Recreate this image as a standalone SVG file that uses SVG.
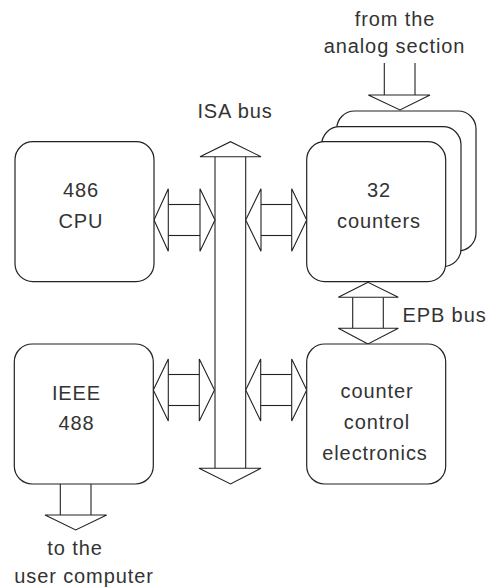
<svg xmlns="http://www.w3.org/2000/svg" width="496" height="588" viewBox="0 0 496 588">
<style>
.box{fill:#fff;stroke:#222;stroke-width:1.2}
.ln{fill:#fff;stroke:#222;stroke-width:1.1;stroke-linejoin:miter}
.ln2{fill:none;stroke:#222;stroke-width:1.1}
text{font-family:"Liberation Sans",Arial,sans-serif;font-size:20px;fill:#333;letter-spacing:0.9px;text-anchor:middle}
</style>
<rect width="496" height="588" fill="#fff"/>
<g id="connectors">
  <g id="isa-bus">
    <line class="ln2" x1="215" y1="156.7" x2="215" y2="468.3"/>
    <line class="ln2" x1="245.7" y1="156.7" x2="245.7" y2="468.3"/>
    <polygon class="ln" points="200,156.7 230.5,141.7 261,156.7"/>
    <polygon class="ln" points="199,468.3 230.5,484 261,468.3"/>
  </g>
  <g id="cpu-isa">
    <line class="ln2" x1="168.3" y1="204.5" x2="200" y2="204.5"/>
    <line class="ln2" x1="168.3" y1="235.5" x2="200" y2="235.5"/>
    <polygon class="ln" points="154,220 168.3,188.8 168.3,251.2"/>
    <polygon class="ln" points="215,220 200,188.8 200,251.2"/>
  </g>
  <g id="isa-counters">
    <line class="ln2" x1="261" y1="204.5" x2="291.7" y2="204.5"/>
    <line class="ln2" x1="261" y1="235.5" x2="291.7" y2="235.5"/>
    <polygon class="ln" points="245.7,220 261,188.8 261,251.2"/>
    <polygon class="ln" points="306.7,220 291.7,188.8 291.7,251.2"/>
  </g>
  <g id="ieee-isa">
    <line class="ln2" x1="168.3" y1="374.5" x2="199.3" y2="374.5"/>
    <line class="ln2" x1="168.3" y1="405.5" x2="199.3" y2="405.5"/>
    <polygon class="ln" points="153.3,390 168.3,359 168.3,421"/>
    <polygon class="ln" points="214.5,390 199.3,359 199.3,421"/>
  </g>
  <g id="isa-control">
    <line class="ln2" x1="260.7" y1="374.5" x2="291.7" y2="374.5"/>
    <line class="ln2" x1="260.7" y1="405.5" x2="291.7" y2="405.5"/>
    <polygon class="ln" points="245.7,390 260.7,359 260.7,421"/>
    <polygon class="ln" points="306.7,390 291.7,359 291.7,421"/>
  </g>
  <g id="epb-bus">
    <line class="ln2" x1="352.7" y1="297.3" x2="352.7" y2="328.3"/>
    <line class="ln2" x1="383.3" y1="297.3" x2="383.3" y2="328.3"/>
    <polygon class="ln" points="368,282.3 338.3,297.3 398.3,297.3"/>
    <polygon class="ln" points="368,344 338.3,328.3 398.3,328.3"/>
  </g>
  <g id="analog-in">
    <line class="ln2" x1="384.3" y1="63" x2="384.3" y2="95"/>
    <line class="ln2" x1="415" y1="63" x2="415" y2="95"/>
    <polygon class="ln" points="368.3,95 430,95 400,110"/>
  </g>
  <g id="user-out">
    <line class="ln2" x1="60.3" y1="484" x2="60.3" y2="515"/>
    <line class="ln2" x1="91" y1="484" x2="91" y2="515"/>
    <polygon class="ln" points="45,515 106.7,515 75.7,530"/>
  </g>
</g>
<g id="cpu">
  <rect class="box" x="15" y="141.7" width="139" height="140" rx="18"/>
  <text x="81" y="196.7">486</text>
  <text x="81" y="227.7">CPU</text>
</g>
<g id="counters">
  <rect class="box" x="336.7" y="111" width="139.3" height="140" rx="18"/>
  <rect class="box" x="321.7" y="126.7" width="139.3" height="140" rx="18"/>
  <rect class="box" x="306.7" y="141.7" width="139" height="140" rx="18"/>
  <text x="379" y="196.7">32</text>
  <text x="379" y="227.7">counters</text>
</g>
<g id="ieee">
  <rect class="box" x="14.3" y="344" width="139" height="140" rx="18"/>
  <text x="76.5" y="400">IEEE</text>
  <text x="76.5" y="430">488</text>
</g>
<g id="control">
  <rect class="box" x="306.7" y="344" width="139" height="140" rx="18"/>
  <text x="377" y="398.3">counter</text>
  <text x="377" y="429.3">control</text>
  <text x="375" y="460">electronics</text>
</g>
<g id="labels">
  <text x="395" y="26">from the</text>
  <text x="394.5" y="53.3">analog section</text>
  <text x="235" y="118.3">ISA bus</text>
  <text x="444.5" y="321.7">EPB bus</text>
  <text x="75" y="554.5">to the</text>
  <text x="84" y="583">user computer</text>
</g>
</svg>
